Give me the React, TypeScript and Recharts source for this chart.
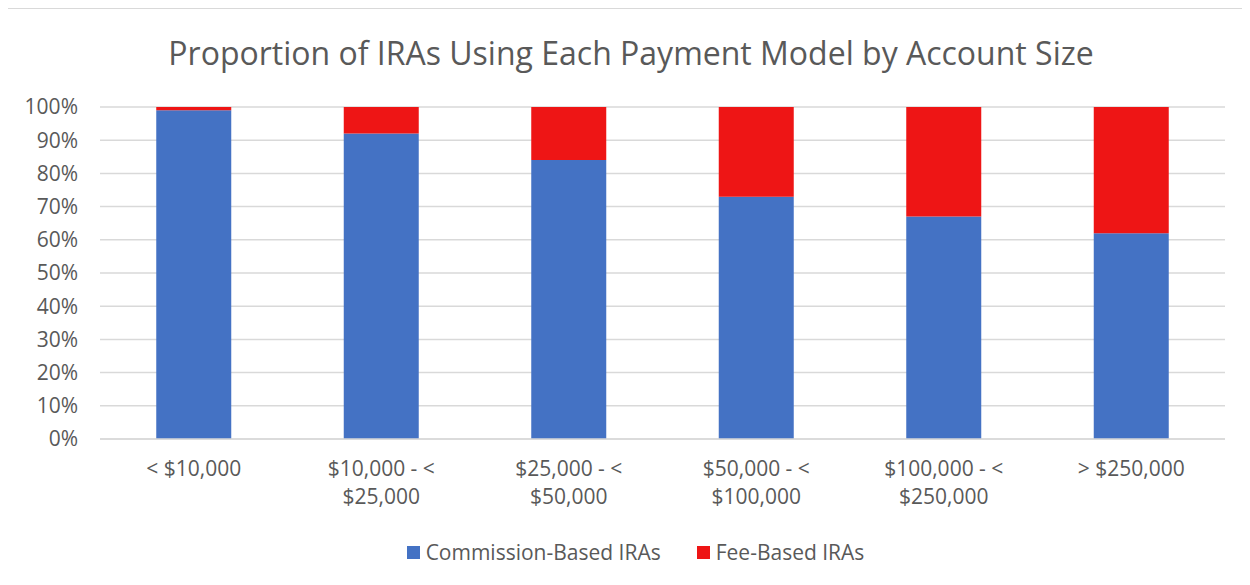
import { BarChart, Bar, XAxis, YAxis, CartesianGrid, Legend } from 'recharts'

const categoryLines = [
  ['< $10,000'],
  ['$10,000 - <', '$25,000'],
  ['$25,000 - <', '$50,000'],
  ['$50,000 - <', '$100,000'],
  ['$100,000 - <', '$250,000'],
  ['> $250,000'],
]
const commission = [99, 92, 84, 73, 67, 62]
const fee = [1, 8, 16, 27, 33, 38]
const yTicks = [0, 10, 20, 30, 40, 50, 60, 70, 80, 90, 100]

const data = categoryLines.map((lines, i) => ({
  name: lines.join(' '),
  commission: commission[i],
  fee: fee[i],
}))

const FONT = '"Open Sans", sans-serif'
const GRAY = '#595959'
const BLUE = '#4472C4'
const RED = '#EE1515'

function CategoryTick({ x, y, index }: any) {
  const lines = categoryLines[index] || []
  return (
    <text x={x} y={y} textAnchor="middle" fill={GRAY} fontSize={21} fontFamily={FONT}>
      {lines.map((l, i) => (
        <tspan key={i} x={x} dy={i === 0 ? 29 : 28}>{l}</tspan>
      ))}
    </text>
  )
}

function LegendBox() {
  const items = [
    { label: 'Commission-Based IRAs', color: BLUE },
    { label: 'Fee-Based IRAs', color: RED },
  ]
  return (
    <div style={{ height: 54, paddingLeft: 38, boxSizing: 'border-box', display: 'flex', justifyContent: 'center', alignItems: 'center', gap: 36, fontFamily: FONT, fontSize: 21, color: GRAY }}>
      {items.map((it) => (
        <div key={it.label} style={{ display: 'flex', alignItems: 'center', gap: 6 }}>
          <span style={{ width: 13, height: 13, background: it.color, display: 'inline-block' }} />
          <span>{it.label}</span>
        </div>
      ))}
    </div>
  )
}

export default function App() {
  return (
    <div style={{ position: 'relative', width: 1248, height: 600, marginLeft: -1, border: '1px solid #d9d9d9', boxSizing: 'border-box', background: '#fff' }}>
      <div style={{ position: 'absolute', left: 0, right: 0, top: 22, textAlign: 'center', fontFamily: FONT, fontSize: 32, color: GRAY, lineHeight: '44px' }}>
        Proportion of IRAs Using Each Payment Model by Account Size
      </div>
      <BarChart width={1246} height={580} data={data} margin={{ top: 98, right: 29, bottom: 10, left: 0 }} barCategoryGap="30%">
        <CartesianGrid vertical={false} stroke="#d9d9d9" strokeWidth={1.5} />
        <XAxis dataKey="name" height={86} tickLine={false} axisLine={{ stroke: '#d9d9d9', strokeWidth: 1.5 }} tick={<CategoryTick />} interval={0} />
        <YAxis width={92} domain={[0, 100]} ticks={yTicks} tickFormatter={(v) => `${v}%`} tickLine={false} axisLine={false} tickMargin={16} tick={{ fill: GRAY, fontSize: 21, fontFamily: FONT }} />
        <Bar dataKey="commission" name="Commission-Based IRAs" stackId="a" fill={BLUE} isAnimationActive={false} />
        <Bar dataKey="fee" name="Fee-Based IRAs" stackId="a" fill={RED} isAnimationActive={false} />
        <Legend verticalAlign="bottom" content={<LegendBox />} />
      </BarChart>
    </div>
  )
}
